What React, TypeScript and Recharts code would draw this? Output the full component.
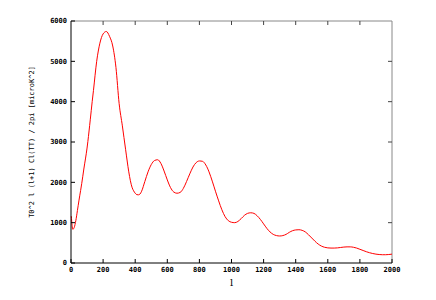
import { LineChart, Line, XAxis, YAxis, ReferenceLine } from "recharts";

// multipole l
const ells = [
  2, 11, 20, 30, 40, 50, 60, 67, 80, 100, 105, 120, 132, 140, 160, 180, 200,
  220, 240, 260, 280, 300, 320, 340, 360, 370, 380, 390, 400, 410, 420, 430,
  440, 460, 480, 500, 520, 540, 560, 580, 600, 620, 640, 660, 680, 700, 720,
  740, 760, 780, 800, 820, 840, 860, 880, 900, 920, 940, 960, 980, 1000, 1020,
  1040, 1060, 1080, 1100, 1120, 1140, 1160, 1180, 1200, 1220, 1240, 1260, 1280,
  1300, 1320, 1340, 1360, 1380, 1400, 1420, 1440, 1460, 1480, 1500, 1520, 1540,
  1560, 1580, 1600, 1620, 1640, 1660, 1680, 1700, 1720, 1740, 1760, 1780, 1800,
  1820, 1840, 1860, 1880, 1900, 1920, 1940, 1960, 1980, 2000,
];

// l(l+1)C_l/2pi in microK^2
const power = [
  1160, 835, 880, 1050, 1300, 1560, 1800, 1975, 2330, 2850, 3010, 3550, 4000,
  4280, 5000, 5450, 5680, 5740, 5620, 5380, 4850, 3950, 3400, 2820, 2260, 2040,
  1880, 1790, 1730, 1695, 1690, 1710, 1780, 2020, 2260, 2440, 2540, 2560, 2470,
  2280, 2060, 1870, 1760, 1730, 1750, 1850, 2020, 2210, 2380, 2490, 2530, 2520,
  2430, 2260, 2030, 1780, 1540, 1320, 1150, 1050, 1010, 1000, 1030, 1100, 1180,
  1230, 1245, 1230, 1170, 1080, 970, 860, 770, 710, 680, 670, 680, 710, 760, 800,
  820, 825, 810, 770, 700, 620, 540, 470, 420, 390, 375, 370, 370, 375, 385, 395,
  400, 400, 390, 370, 340, 310, 280, 255, 235, 220, 210, 205, 205, 210, 220,
];

const xTicks = [0, 200, 400, 600, 800, 1000, 1200, 1400, 1600, 1800, 2000];
const yTicks = [0, 1000, 2000, 3000, 4000, 5000, 6000];
const xMax = 2000;
const yMax = 6000;

const data = ells.map((l, i) => ({ l, cl: power[i] }));

const tickFont = {
  fontFamily: "DejaVu Sans Mono",
  fontSize: 7,
  fontWeight: "bold",
  fill: "#000",
};

// top border with mirrored x ticks
const TopFrame = (p: any) => {
  const left = Math.min(p.x1, p.x2);
  const right = Math.max(p.x1, p.x2);
  const y = p.y1;
  return (
    <g>
      <line x1={left} x2={right} y1={y} y2={y} stroke="#888" />
      {xTicks.slice(1, -1).map((t) => {
        const x = left + ((right - left) * t) / xMax;
        return <line key={t} x1={x} x2={x} y1={y} y2={y + 4} stroke="#444" />;
      })}
    </g>
  );
};

// right border with mirrored y ticks
const RightFrame = (p: any) => {
  const top = Math.min(p.y1, p.y2);
  const bottom = Math.max(p.y1, p.y2);
  const x = p.x1;
  return (
    <g>
      <line x1={x} x2={x} y1={top} y2={bottom} stroke="#888" />
      {yTicks.slice(1, -1).map((t) => {
        const y = bottom - ((bottom - top) * t) / yMax;
        return <line key={t} x1={x - 4} x2={x} y1={y} y2={y} stroke="#444" />;
      })}
    </g>
  );
};

export default function App() {
  return (
    <div style={{ position: "absolute", left: 0, top: 0, background: "#fff" }}>
      <LineChart
        width={436}
        height={300}
        data={data}
        margin={{ top: 21, right: 44, bottom: 7, left: 0 }}
      >
        <XAxis
          dataKey="l"
          type="number"
          domain={[0, xMax]}
          ticks={xTicks}
          height={30}
          tickSize={-4}
          tickMargin={8}
          tick={tickFont}
          axisLine={{ stroke: "#000" }}
          tickLine={{ stroke: "#000" }}
          label={{
            value: "l",
            position: "insideBottom",
            offset: 7,
            style: { fontFamily: "DejaVu Serif", fontSize: 10, fill: "#000" },
          }}
        />
        <YAxis
          type="number"
          domain={[0, yMax]}
          ticks={yTicks}
          width={71}
          tickSize={-4}
          tickMargin={8}
          tick={tickFont}
          axisLine={{ stroke: "#000" }}
          tickLine={{ stroke: "#000" }}
          label={{
            value: "T0^2 l (l+1) Cl(TT) / 2pi [microK^2]",
            angle: -90,
            position: "insideLeft",
            offset: 32,
            style: { ...tickFont, fontWeight: "normal", textAnchor: "middle" },
          }}
        />
        <ReferenceLine y={yMax} ifOverflow="visible" shape={TopFrame} />
        <ReferenceLine x={xMax} ifOverflow="visible" shape={RightFrame} />
        <Line
          dataKey="cl"
          type="monotone"
          stroke="#ff0000"
          strokeWidth={1}
          dot={false}
          isAnimationActive={false}
        />
      </LineChart>
    </div>
  );
}
